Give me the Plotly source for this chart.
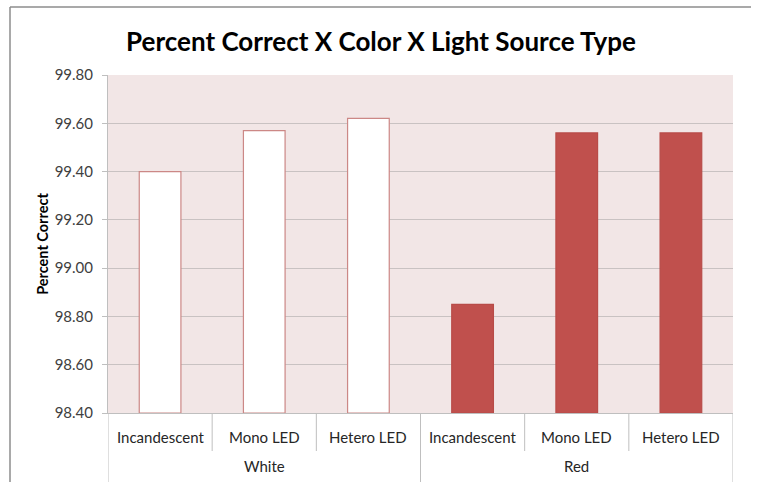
import plotly.graph_objects as go

# Data
groups = ["White", "White", "White", "Red", "Red", "Red"]
light_sources = ["Incandescent", "Mono LED", "Hetero LED",
                 "Incandescent", "Mono LED", "Hetero LED"]
percent_correct = [99.40, 99.57, 99.62, 98.85, 99.56, 99.56]
group_names = ["White", "Red"]
y_ticks = [98.40, 98.60, 98.80, 99.00, 99.20, 99.40, 99.60, 99.80]

RED = "#C0504D"
fills = ["#FFFFFF" if g == "White" else RED for g in groups]
outlines = ["#CC8886" if g == "White" else "#B84B48" for g in groups]

x_pos = list(range(len(light_sources)))
FONT = "Lato"
floor = y_ticks[0]

fig = go.Figure()
# bars rise from the axis floor up to each value
fig.add_trace(go.Bar(
    x=x_pos,
    y=[v - floor for v in percent_correct],
    base=floor,
    width=0.4,
    marker=dict(color=fills, line=dict(color=outlines, width=1.2)),
    customdata=percent_correct,
    hovertemplate="%{customdata:.2f}<extra></extra>",
))

# plot area geometry (pixels) used to place decorations in paper units
L, R, T, B = 108, 733, 75, 413
W, H = 761, 482
pw, ph = R - L, B - T


def px_x(x):
    return (x - L) / pw


def px_y(y):
    return (B - y) / ph


shapes = []
axis_grey = "#BFBFBF"
# category separators below the axis
n = len(light_sources)
for k in range(n + 1):
    xv = k - 0.5
    is_group_edge = k in (0, 3, n)
    shapes.append(dict(
        type="line", xref="x", yref="paper",
        x0=xv, x1=xv, y0=0, y1=px_y(482 if is_group_edge else 451),
        line=dict(color=axis_grey, width=1),
    ))
# outer chart frame (top and left edges)
shapes.append(dict(type="line", xref="paper", yref="paper",
                   x0=px_x(10), x1=px_x(751), y0=px_y(7), y1=px_y(7),
                   line=dict(color="#8C8C8C", width=1.5)))
shapes.append(dict(type="line", xref="paper", yref="paper",
                   x0=px_x(10), x1=px_x(10), y0=px_y(7), y1=px_y(H + 5),
                   line=dict(color="#8C8C8C", width=1.5)))

label_font = dict(family=FONT, size=15, color="#262626")
annotations = []
for i, name in enumerate(light_sources):
    annotations.append(dict(
        x=i, y=px_y(437), xref="x", yref="paper", text=name,
        showarrow=False, yanchor="middle", font=label_font,
    ))
for j, g in enumerate(group_names):
    annotations.append(dict(
        x=3 * j + 1, y=px_y(466), xref="x", yref="paper", text=g,
        showarrow=False, yanchor="middle", font=label_font,
    ))

fig.update_layout(
    width=W, height=H,
    margin=dict(l=L, r=W - R, t=T, b=H - B),
    paper_bgcolor="#FFFFFF",
    plot_bgcolor="#F2E6E6",
    showlegend=False,
    title=dict(
        text="<b>Percent Correct X Color X Light Source Type</b>",
        x=381 / W, xanchor="center",
        y=1 - 42 / H, yanchor="middle",
        font=dict(family=FONT, size=26, color="#000000"),
    ),
    xaxis=dict(
        range=[-0.5, n - 0.5],
        showticklabels=False, showgrid=False, zeroline=False,
        showline=True, linecolor=axis_grey, linewidth=1,
        fixedrange=True,
    ),
    yaxis=dict(
        range=[y_ticks[0], y_ticks[-1]],
        tickvals=y_ticks,
        ticktext=[f"{v:.2f}" for v in y_ticks],
        ticks="outside", ticklen=5, tickcolor=axis_grey,
        ticklabelstandoff=6,
        showline=True, linecolor=axis_grey, linewidth=1,
        showgrid=True, gridcolor="#C9C2C2", gridwidth=1,
        zeroline=False,
        tickfont=dict(family=FONT, size=15, color="#404040"),
        title=dict(text="<b>Percent Correct</b>", standoff=2,
                   font=dict(family=FONT, size=14.5, color="#000000")),
    ),
    shapes=shapes,
    annotations=annotations,
)

fig.write_html("out.html")
